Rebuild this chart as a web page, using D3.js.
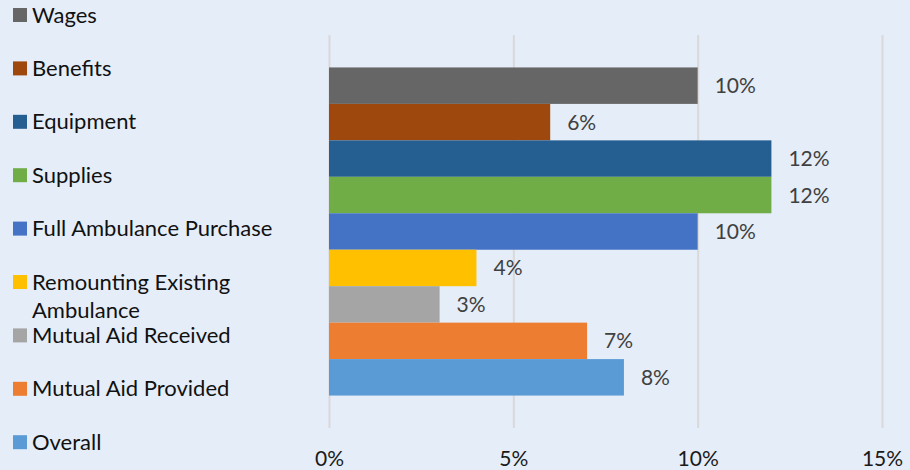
<!DOCTYPE html>
<html>
<head>
<meta charset="utf-8">
<script src="https://cdn.jsdelivr.net/npm/d3@7"></script>
<style>
  html, body { margin: 0; padding: 0; background: #E5EDF8; }
  svg { display: block; font-family: Lato, "Open Sans", sans-serif; }
</style>
</head>
<body>
<div id="chart"></div>
<script>
const categories = [
  "Wages", "Benefits", "Equipment", "Supplies", "Full Ambulance Purchase",
  "Remounting Existing Ambulance", "Mutual Aid Received", "Mutual Aid Provided", "Overall"
];
const values = [0.10, 0.06, 0.12, 0.12, 0.10, 0.04, 0.03, 0.07, 0.08];
const colors = ["#666666", "#9E480E", "#255E91", "#70AD47", "#4472C4",
  "#FFC000", "#A5A5A5", "#ED7D31", "#5B9BD5"];
const legendLines = [
  ["Wages"], ["Benefits"], ["Equipment"], ["Supplies"], ["Full Ambulance Purchase"],
  ["Remounting Existing", "Ambulance"], ["Mutual Aid Received"], ["Mutual Aid Provided"], ["Overall"]
];
const tickValues = [0, 0.05, 0.10, 0.15];

const width = 910, height = 470;
const plot = { left: 329, right: 882, top: 35, bottom: 428 };

const svg = d3.select("#chart").append("svg")
  .attr("width", width)
  .attr("height", height);

svg.append("rect").attr("width", width).attr("height", height).attr("fill", "#E5EDF8");

const x = d3.scaleLinear().domain([0, 0.15]).range([plot.left, plot.right]);
const y = d3.scaleBand().domain(categories)
  .range([plot.top, plot.bottom])
  .paddingInner(0)
  .paddingOuter(0.89);

// gridlines + tick labels
const axis = svg.append("g")
  .attr("transform", `translate(0,${plot.bottom})`)
  .call(d3.axisBottom(x)
    .tickValues(tickValues)
    .tickFormat(d3.format(".0%"))
    .tickSize(-(plot.bottom - plot.top))
    .tickPadding(23));
axis.select(".domain").remove();
axis.selectAll(".tick line").attr("stroke", "#D9D9D9").attr("stroke-width", 2);
axis.selectAll(".tick text")
  .attr("fill", "#1a1a1a")
  .style("font-size", "21px")
  .style("font-family", "Lato, 'Open Sans', sans-serif");

// bars
svg.append("g").selectAll("rect")
  .data(categories)
  .join("rect")
  .attr("x", x(0))
  .attr("y", d => y(d))
  .attr("width", (d, i) => x(values[i]) - x(0))
  .attr("height", y.bandwidth())
  .attr("fill", (d, i) => colors[i]);

// data labels
svg.append("g").selectAll("text")
  .data(categories)
  .join("text")
  .attr("x", (d, i) => x(values[i]) + 17)
  .attr("y", d => y(d) + y.bandwidth() / 2 + 7.5)
  .attr("fill", "#404040")
  .style("font-size", "21px")
  .text((d, i) => d3.format(".0%")(values[i]));

// legend
const legendStep = 53.4;
const legend = svg.append("g").selectAll("g")
  .data(categories)
  .join("g")
  .attr("transform", (d, i) => `translate(13,${15 + i * legendStep})`);

legend.append("rect")
  .attr("x", 0).attr("y", -7)
  .attr("width", 14).attr("height", 14)
  .attr("fill", (d, i) => colors[i]);

legend.append("text")
  .attr("x", 19)
  .attr("y", 7.5)
  .attr("fill", "#111")
  .style("font-size", "22px")
  .each(function (d, i) {
    d3.select(this).selectAll("tspan")
      .data(legendLines[i])
      .join("tspan")
      .attr("x", 19)
      .attr("dy", (t, j) => j === 0 ? 0 : 28)
      .text(t => t);
  });
</script>
</body>
</html>
